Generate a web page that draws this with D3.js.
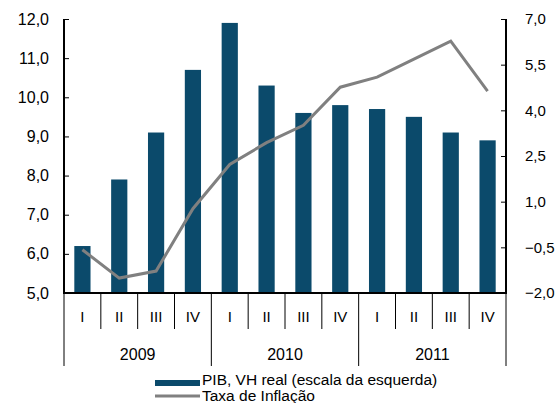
<!DOCTYPE html>
<html>
<head>
<meta charset="utf-8">
<script src="https://cdn.jsdelivr.net/npm/d3@7"></script>
<style>
  body { margin: 0; background: #fff; }
  svg { font-family: "Liberation Sans", Arial, sans-serif; }
</style>
</head>
<body>
<div class="svg-container"></div>
<script>
var quarters = ["I", "II", "III", "IV", "I", "II", "III", "IV", "I", "II", "III", "IV"];
var years = ["2009", "2010", "2011"];
var pib = [6.2, 7.9, 9.1, 10.7, 11.9, 10.3, 9.6, 9.8, 9.7, 9.5, 9.1, 8.9];
var inflacao = [-0.58, -1.51, -1.28, 0.77, 2.22, 2.94, 3.51, 4.76, 5.09, 5.68, 6.27, 4.63];
var leftTicks = [5, 6, 7, 8, 9, 10, 11, 12];
var rightTicks = [-2, -0.5, 1, 2.5, 4, 5.5, 7];

var width = 555, height = 403;
var plot = { left: 64, right: 506, top: 19, bottom: 293 };
var fmt = d3.format(".1f");
var comma = (v) => fmt(v).replace(".", ",");

var svg = d3.select(".svg-container").append("svg")
  .attr("width", width).attr("height", height);

var keys = quarters.map((q, i) => i);
var x = d3.scaleBand().domain(keys).range([plot.left, plot.right]).paddingInner(0.56).paddingOuter(0.28);
var xs = d3.scaleBand().domain(keys).range([plot.left, plot.right]);
var yL = d3.scaleLinear().domain([5, 12]).range([plot.bottom, plot.top]);
var yR = d3.scaleLinear().domain([-2, 7]).range([plot.bottom, plot.top]);

// bars
svg.append("g").selectAll("rect").data(pib).enter().append("rect")
  .attr("x", (d, i) => x(i))
  .attr("width", x.bandwidth())
  .attr("y", (d) => yL(d))
  .attr("height", (d) => plot.bottom - yL(d))
  .attr("fill", "#0b4a6b");

// inflation line
var line = d3.line()
  .x((d, i) => xs(i) + xs.bandwidth() / 2)
  .y((d) => yR(d));
svg.append("path").datum(inflacao)
  .attr("d", line)
  .attr("fill", "none")
  .attr("stroke", "#808080")
  .attr("stroke-width", 3);

// y axes, ticks point inward
var gl = svg.append("g").attr("transform", "translate(" + plot.left + ",0)")
  .call(d3.axisLeft(yL).tickValues(leftTicks).tickFormat(comma).tickSize(-5).tickPadding(15));
var gr = svg.append("g").attr("transform", "translate(" + plot.right + ",0)")
  .call(d3.axisRight(yR).tickValues(rightTicks).tickFormat(comma).tickSize(-5).tickPadding(19));

[gl, gr].forEach((g) => {
  g.select(".domain").remove();
  g.selectAll(".tick line").attr("stroke", "#000");
  g.selectAll(".tick text").attr("fill", "#000")
    .attr("font-family", "Liberation Sans, Arial, sans-serif");
});
gl.selectAll(".tick text").attr("font-size", 16);
gr.selectAll(".tick text").attr("font-size", 15);
[plot.left, plot.right].forEach((px) => {
  svg.append("line").attr("x1", px).attr("x2", px).attr("y1", plot.top).attr("y2", plot.bottom + 1)
    .attr("stroke", "#000").attr("stroke-width", 2);
});

// x axis with quarter / year separators
svg.append("line").attr("x1", plot.left).attr("x2", plot.right).attr("y1", plot.bottom).attr("y2", plot.bottom)
  .attr("stroke", "#000").attr("stroke-width", 2);

var bounds = d3.range(quarters.length + 1);
svg.append("g").selectAll("line").data(bounds).enter().append("line")
  .attr("x1", (d) => plot.left + d * xs.step())
  .attr("x2", (d) => plot.left + d * xs.step())
  .attr("y1", plot.bottom)
  .attr("y2", (d) => d % 4 === 0 ? 366 : 329)
  .attr("stroke", "#000").attr("stroke-width", 1);

svg.append("g").selectAll("text").data(quarters).enter().append("text")
  .attr("x", (d, i) => xs(i) + xs.bandwidth() / 2)
  .attr("y", 322)
  .attr("text-anchor", "middle")
  .attr("font-size", 15)
  .text((d) => d);

svg.append("g").selectAll("text").data(years).enter().append("text")
  .attr("x", (d, i) => plot.left + (i * 4 + 2) * xs.step())
  .attr("y", 360)
  .attr("text-anchor", "middle")
  .attr("font-size", 16)
  .text((d) => d);

// legend
var lg = svg.append("g");
lg.append("rect").attr("x", 155).attr("y", 380).attr("width", 45).attr("height", 6).attr("fill", "#0b4a6b");
lg.append("text").attr("x", 202).attr("y", 385).attr("font-size", 15.5).text("PIB, VH real (escala da esquerda)");
lg.append("line").attr("x1", 155).attr("x2", 200).attr("y1", 396).attr("y2", 396)
  .attr("stroke", "#808080").attr("stroke-width", 3);
lg.append("text").attr("x", 202).attr("y", 401).attr("font-size", 15.5).text("Taxa de Inflação");
</script>
</body>
</html>
